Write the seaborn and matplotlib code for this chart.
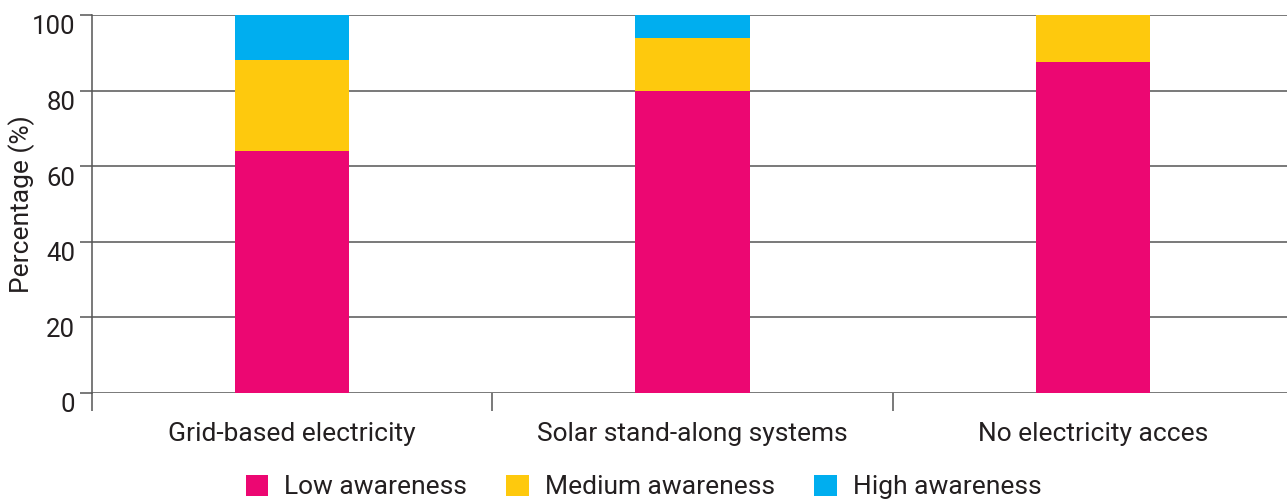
import matplotlib
matplotlib.use("Agg")
import matplotlib.pyplot as plt
import matplotlib.transforms as mtransforms
from matplotlib.patches import Patch
import seaborn as sns
import pandas as pd
import numpy as np

categories = ["Grid-based electricity", "Solar stand-along systems", "No electricity acces"]
low = [64.0, 80.0, 87.5]
medium = [24.0, 14.0, 12.5]
high = [12.0, 6.0, 0.0]
series_names = ["Low awareness", "Medium awareness", "High awareness"]
colors = ["#EC0772", "#FEC90D", "#00AEEF"]
yticks = [0, 20, 40, 60, 80, 100]

sns.set_theme(style="white")
plt.rcParams["font.family"] = ["Roboto", "DejaVu Sans"]
text_color = "#231F20"
grid_color = "#555555"

df = pd.DataFrame({"category": categories, "low": low, "medium": medium, "high": high})
df["low_med"] = df["low"] + df["medium"]
df["total"] = df["low_med"] + df["high"]

fig = plt.figure(figsize=(12.87, 4.99), dpi=100)
ax = fig.add_axes([92 / 1287, 106 / 499, 1 - 92 / 1287, (393 - 15) / 499])

# cumulative layers, drawn from the top segment down
for col, c in zip(["total", "low_med", "low"], colors[::-1]):
    sns.barplot(data=df, x="category", y=col, color=c, width=0.285,
                saturation=1, ax=ax, zorder=3, linewidth=0)

ax.set_xlim(-0.5, 2.485)
ax.set_ylim(0, 100)
ax.set_yticks(yticks)
ax.yaxis.grid(True, color=grid_color, linewidth=1.1, zorder=0)
ax.set_axisbelow(True)

for s in ["top", "right", "bottom"]:
    ax.spines[s].set_visible(False)
ax.spines["left"].set_color(grid_color)
ax.spines["left"].set_linewidth(1.1)
ax.spines["left"].set_bounds(0, 100)

ax.tick_params(axis="y", which="major", length=9, width=1.1, color=grid_color,
               labelsize=18.5, labelcolor=text_color, pad=3, left=True)
ax.tick_params(axis="x", which="major", length=0, labelsize=19,
               labelcolor=text_color, pad=21)
ax.set_xticks([-0.5, 0.5, 1.5], minor=True)
ax.tick_params(axis="x", which="minor", length=13, width=1.1, color=grid_color,
               bottom=True, direction="out")

offset = mtransforms.ScaledTranslation(0, -10 / 100, fig.dpi_scale_trans)
for lbl in ax.get_yticklabels():
    lbl.set_transform(lbl.get_transform() + offset)

ax.set_xlabel("")
ax.set_ylabel("Percentage (%)", fontsize=19, color=text_color, labelpad=-2)

handles = [Patch(facecolor=c, edgecolor="none") for c in colors]
fig.legend(handles, series_names, loc="center", bbox_to_anchor=(0.5, 0.024),
           ncol=3, frameon=False, fontsize=19, labelcolor=text_color,
           handlelength=0.85, handleheight=0.85, handletextpad=0.6,
           columnspacing=1.5)

fig.savefig("out.png", dpi=100)
